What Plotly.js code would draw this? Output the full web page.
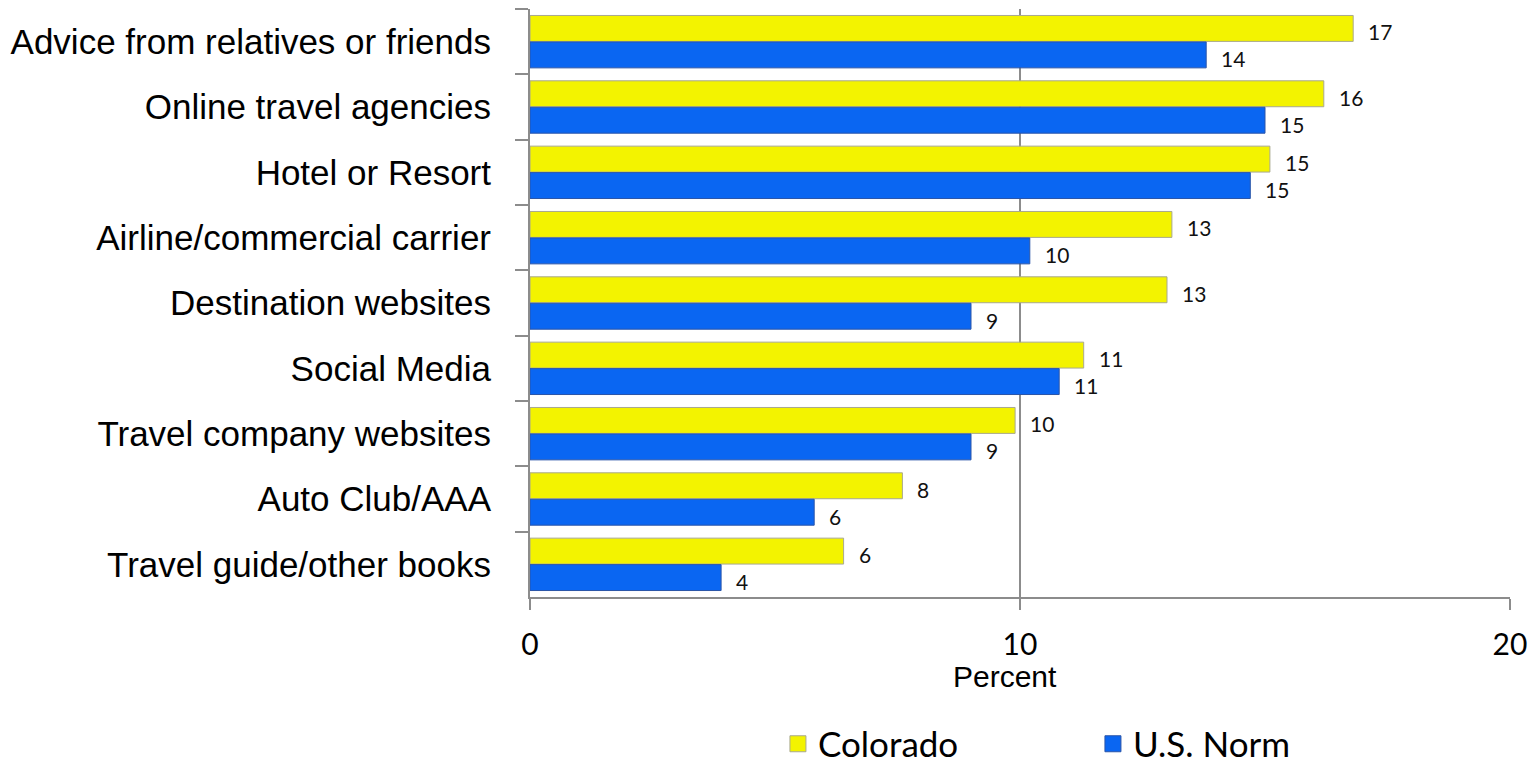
<!DOCTYPE html>
<html>
<head>
<meta charset="utf-8">
<script src="https://cdn.plot.ly/plotly-3.0.1.min.js"></script>
<style>
html,body{margin:0;padding:0;background:#fff;}
#chart{width:1538px;height:765px;}
</style>
</head>
<body>
<div id="chart"></div>
<script>
const categories = [
  "Advice from relatives or friends",
  "Online travel agencies",
  "Hotel or Resort",
  "Airline/commercial carrier",
  "Destination websites",
  "Social Media",
  "Travel company websites",
  "Auto Club/AAA",
  "Travel guide/other books"
];
const coloradoValues = [16.8, 16.2, 15.1, 13.1, 13.0, 11.3, 9.9, 7.6, 6.4];
const usNormValues   = [13.8, 15.0, 14.7, 10.2, 9.0, 10.8, 9.0, 5.8, 3.9];
const coloradoLabels = ["17", "16", "15", "13", "13", "11", "10", "8", "6"];
const usNormLabels   = ["14", "15", "15", "10", "9", "11", "9", "6", "4"];
const seriesNames = ["Colorado", "U.S. Norm"];
const seriesColors = ["#F3F300", "#0A66F2"];
const seriesLines = ["#A8A890", "#2A55A8"];
const xTicks = [0, 10, 20];
const xTitle = "Percent";

const numFont = "Lato, 'Open Sans', sans-serif";
const catFont = "'Liberation Sans', Arial, sans-serif";

const traces = [
  {
    type: "bar", orientation: "h", name: seriesNames[0],
    y: categories, x: coloradoValues, showlegend: false,
    marker: {color: seriesColors[0], line: {color: seriesLines[0], width: 1}},
    hoverinfo: "skip"
  },
  {
    type: "bar", orientation: "h", name: seriesNames[1],
    y: categories, x: usNormValues, showlegend: false,
    marker: {color: seriesColors[1], line: {color: seriesLines[1], width: 1}},
    hoverinfo: "skip"
  },
  // legend entries (larger square swatches)
  {
    type: "scatter", mode: "markers", name: seriesNames[0],
    x: [null], y: [null], showlegend: true, hoverinfo: "skip",
    marker: {symbol: "square", size: 16, color: seriesColors[0], line: {color: seriesLines[0], width: 1}}
  },
  {
    type: "scatter", mode: "markers", name: seriesNames[1],
    x: [null], y: [null], showlegend: true, hoverinfo: "skip",
    marker: {symbol: "square", size: 16, color: seriesColors[1], line: {color: seriesLines[1], width: 1}}
  }
];

const annotations = [];
categories.forEach((c, i) => {
  annotations.push({
    x: coloradoValues[i], y: c, xref: "x", yref: "y",
    text: coloradoLabels[i], showarrow: false,
    xanchor: "left", yanchor: "middle", xshift: 13, yshift: 10,
    font: {family: numFont, size: 21, color: "#111"}
  });
  annotations.push({
    x: usNormValues[i], y: c, xref: "x", yref: "y",
    text: usNormLabels[i], showarrow: false,
    xanchor: "left", yanchor: "middle", xshift: 13, yshift: -17,
    font: {family: numFont, size: 21, color: "#111"}
  });
});
annotations.push({
  xref: "paper", yref: "paper", x: 0.485, y: -0.135,
  xanchor: "center", yanchor: "middle", showarrow: false,
  text: xTitle,
  font: {family: catFont, size: 30, color: "#000"}
});

const layout = {
  width: 1538, height: 765,
  paper_bgcolor: "#fff", plot_bgcolor: "#fff",
  margin: {l: 530, r: 28, t: 9, b: 168, autoexpand: false},
  barmode: "group",
  bargap: 0.19,
  bargroupgap: 0.02,
  showlegend: true,
  legend: {
    orientation: "h",
    x: 0.253, xanchor: "left",
    y: -0.25, yanchor: "middle",
    font: {family: numFont, size: 35, color: "#000"},
    entrywidth: 270, entrywidthmode: "pixels",
    itemclick: false, itemdoubleclick: false,
    traceorder: "normal"
  },
  xaxis: {
    range: [0, 20],
    tickvals: xTicks,
    ticktext: xTicks.map(String),
    tickfont: {family: numFont, size: 30, color: "#000"},
    ticks: "outside", ticklen: 11, tickcolor: "#8c8c8c", tickwidth: 2,
    ticklabelstandoff: 9,
    showgrid: true, gridcolor: "#8c8c8c", gridwidth: 2,
    showline: true, linecolor: "#8c8c8c", linewidth: 2,
    zeroline: false,
    fixedrange: true
  },
  yaxis: {
    type: "category",
    autorange: "reversed",
    tickfont: {family: catFont, size: 35, color: "#000"},
    ticks: "outside", tickson: "boundaries", ticklen: 13, tickcolor: "#8c8c8c", tickwidth: 2,
    ticklabelstandoff: 30,
    showline: true, linecolor: "#8c8c8c", linewidth: 2,
    showgrid: false, zeroline: false,
    fixedrange: true
  },
  annotations: annotations
};

Plotly.newPlot("chart", traces, layout, {displayModeBar: false, staticPlot: true});
</script>
</body>
</html>
